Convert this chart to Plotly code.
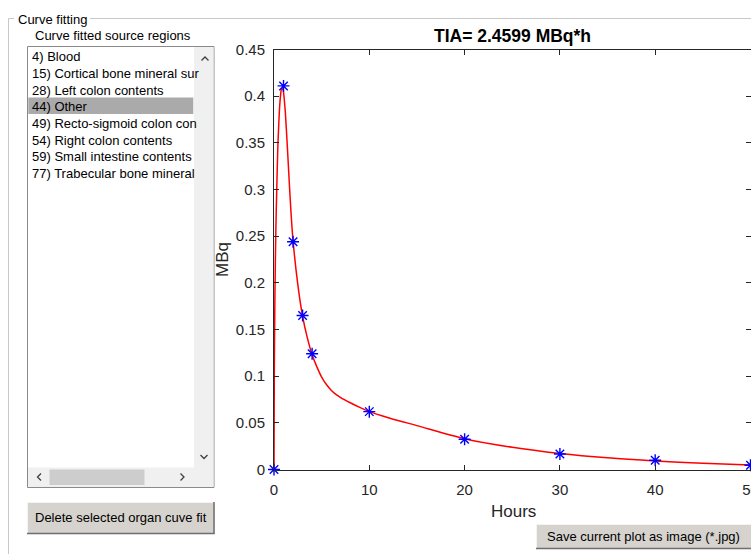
import plotly.graph_objects as go

W, H = 751, 554

# ---- data ----
meas_hours = [0, 1, 2, 3, 4, 10, 20, 30, 40, 50]
meas_mbq = [0, 0.411, 0.244, 0.165, 0.124, 0.062, 0.0324, 0.0166, 0.0099, 0.0046]

fit_hours = [0, 0.03, 0.1, 0.2, 0.3, 0.4, 0.5, 0.6, 0.7, 0.8, 0.9, 1.0, 1.1, 1.2, 1.4,
             1.6, 1.8, 2.0, 2.5, 3.0, 3.5, 4.0, 4.5, 5.0, 5.5, 6.0, 6.5, 7.0, 8.0, 9.0, 10,
             12, 15, 20, 25, 30, 35, 40, 45, 50]
fit_mbq = [0, 0.10, 0.19, 0.26, 0.305, 0.345, 0.37, 0.39, 0.402, 0.408, 0.408, 0.404,
           0.394, 0.381, 0.346, 0.308, 0.273, 0.245, 0.198, 0.164, 0.141, 0.123, 0.110,
           0.099, 0.091, 0.085, 0.0805, 0.077, 0.0715, 0.0665, 0.062, 0.0555, 0.047, 0.0330,
           0.0238, 0.0172, 0.0125, 0.0092, 0.0067, 0.0049]

x_ticks = [0, 10, 20, 30, 40, 50]
x_tick_labels = ["0", "10", "20", "30", "40", "50"]
y_ticks = [0, 0.05, 0.1, 0.15, 0.2, 0.25, 0.3, 0.35, 0.4, 0.45]
y_tick_labels = ["0", "0.05", "0.1", "0.15", "0.2", "0.25", "0.3", "0.35", "0.4", "0.45"]

source_regions = ["4) Blood", "15) Cortical bone mineral sur", "28) Left colon contents",
                  "44) Other", "49) Recto-sigmoid colon con", "54) Right colon contents",
                  "59) Small intestine contents", "77) Trabecular bone mineral"]
selected_region = "44) Other"

title_text = "TIA= 2.4599 MBq*h"
x_title = "Hours"
y_title = "MBq"
panel_title = "Curve fitting"
list_title = "Curve fitted source regions"
delete_btn = "Delete selected organ cuve fit"
save_btn = "Save current plot as image (*.jpg)"


def px(x):
    return x / W


def py(y):
    return 1 - y / H


FONT = "Liberation Sans, Arial, sans-serif"
AX = "#262626"

fig = go.Figure()
fig.add_trace(go.Scatter(x=fit_hours, y=fit_mbq, mode="lines",
                         line=dict(color="#ff0000", width=1.5, shape="spline", smoothing=0.8),
                         hoverinfo="skip"))
fig.add_trace(go.Scatter(x=meas_hours, y=meas_mbq, mode="markers", cliponaxis=False,
                         marker=dict(symbol="asterisk-open", size=10, color="#0000ff",
                                     line=dict(color="#0000ff", width=1.4)),
                         hoverinfo="skip"))

shapes = []
annotations = []


def rect(x0, y0, x1, y1, fill=None, line=None, lw=1):
    shapes.append(dict(type="rect", xref="paper", yref="paper",
                       x0=px(x0), x1=px(x1), y0=py(y1), y1=py(y0),
                       fillcolor=fill if fill else "rgba(0,0,0,0)",
                       line=dict(color=line if line else "rgba(0,0,0,0)", width=lw if line else 0),
                       layer="above"))


def seg(x0, y0, x1, y1, color, lw=1):
    shapes.append(dict(type="line", xref="paper", yref="paper",
                       x0=px(x0), x1=px(x1), y0=py(y0), y1=py(y1),
                       line=dict(color=color, width=lw), layer="above"))


def path(points, color, lw=1.3):
    d = "M " + " L ".join(f"{px(a)},{py(b)}" for a, b in points)
    shapes.append(dict(type="path", xref="paper", yref="paper", path=d,
                       line=dict(color=color, width=lw), layer="above"))


def text(x, y, s, size=13, xanchor="left", color="black", bold=False, angle=0):
    annotations.append(dict(xref="paper", yref="paper", x=px(x), y=py(y), text=s,
                            showarrow=False, xanchor=xanchor, yanchor="middle",
                            textangle=angle,
                            font=dict(family=FONT, size=size, color=color,
                                      weight="bold" if bold else "normal")))


# group box
seg(8.5, 18.5, 14, 18.5, "#c8c8c8")
seg(90, 18.5, 751, 18.5, "#c8c8c8")
seg(8.5, 18.5, 8.5, 554, "#c8c8c8")
text(15.5, 19.5, panel_title)
text(33, 35, list_title)

# list box
rect(27.5, 46.5, 214, 487.5, fill="#ffffff", line="#8a8a8a")
rect(194, 47, 213.5, 487, fill="#f0f0f0")
rect(28, 467.5, 194, 487, fill="#f0f0f0")
rect(49.5, 469.5, 144.5, 485, fill="#cdcdcd")
rect(28.3, 97.5, 193.3, 114, fill="#aaaaaa")
path([(201.5, 60.5), (205, 57), (208.5, 60.5)], "#404040")
path([(200.5, 455), (204, 458.5), (207.5, 455)], "#404040")
path([(41, 473.5), (37.5, 477), (41, 480.5)], "#404040")
path([(180.5, 473.5), (184, 477), (180.5, 480.5)], "#404040")
for i, name in enumerate(source_regions):
    text(29.5, 56.7 + 16.67 * i, name)

# buttons
rect(27, 502, 214.5, 534, fill="#d6d3ce")
seg(27, 502.5, 214.5, 502.5, "#f4f4f4")
seg(27.5, 502, 27.5, 534, "#f4f4f4")
seg(27, 533.5, 214.5, 533.5, "#6e6e6e", 1.5)
seg(214, 502, 214, 534, "#6e6e6e", 1.5)
text(120.5, 517.5, delete_btn, xanchor="center")

rect(536, 524, 751, 549, fill="#d6d3ce")
seg(536, 524.5, 751, 524.5, "#f4f4f4")
seg(536.5, 524, 536.5, 549, "#f4f4f4")
seg(536, 548.5, 751, 548.5, "#6e6e6e", 1.5)
text(643.5, 536.5, save_btn, xanchor="center")

# axes labels
text(512.5, 36, title_text, size=17.5, xanchor="center", bold=True, color="#000000")
text(513, 511, x_title, size=17, xanchor="center", color=AX)
text(222, 260, y_title, size=17, xanchor="center", color=AX, angle=-90)

axis_common = dict(showline=True, linecolor=AX, linewidth=1, mirror="ticks",
                   ticks="inside", ticklen=5, tickcolor=AX, tickwidth=1,
                   showgrid=False, zeroline=False, automargin=False,
                   ticklabeloverflow="allow",
                   tickfont=dict(family=FONT, size=15, color=AX))

fig.update_layout(
    width=W, height=H, autosize=False,
    margin=dict(l=0, r=0, t=0, b=0, pad=0, autoexpand=False),
    paper_bgcolor="#ffffff", plot_bgcolor="#ffffff",
    showlegend=False,
    xaxis=dict(domain=[px(274), px(750.5)], range=[0, 50], tickvals=x_ticks,
               ticktext=x_tick_labels, ticklabelstandoff=6, **axis_common),
    yaxis=dict(domain=[py(469.5), py(49.5)], range=[0, 0.45], tickvals=y_ticks,
               ticktext=y_tick_labels, ticklabelstandoff=5, **axis_common),
    shapes=shapes, annotations=annotations,
)

fig.write_html("out.html", config={"displayModeBar": False},
               post_script="document.body.style.margin='0';document.body.style.overflow='hidden';")
